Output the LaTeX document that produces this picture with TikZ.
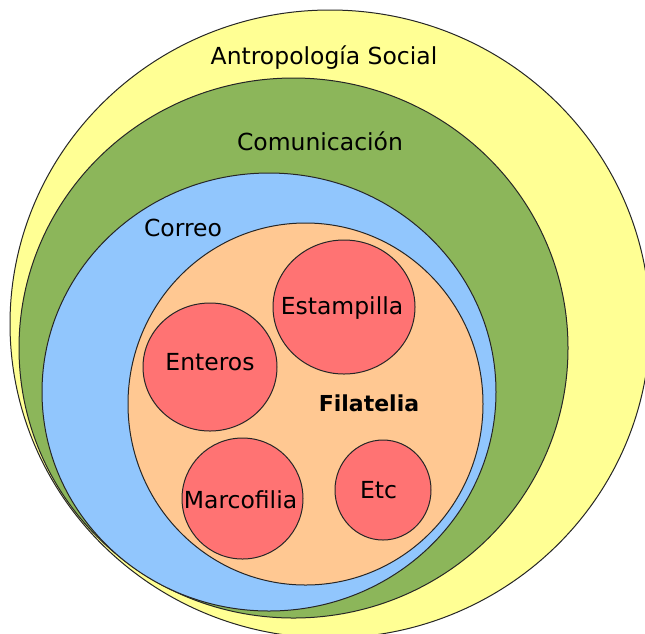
\documentclass[tikz,border=0pt]{standalone}
\usepackage{fontspec}
\setmainfont{DejaVu Sans}
\usepackage{xcolor}
\usepackage{tikz}
\usetikzlibrary{positioning}
\definecolor{antroyellow}{HTML}{FFFF94}
\definecolor{comungreen}{HTML}{8CB65A}
\definecolor{correoblue}{HTML}{91C6FD}
\definecolor{filapeach}{HTML}{FFC892}
\definecolor{itemred}{HTML}{FF7373}
\tikzset{
  area/.style={draw=black!85, line width=0.75pt},
  item/.style={area, fill=itemred},
  setlabel/.style={inner sep=0pt, text height=12.8pt, text depth=0pt, font=\fontsize{17.6}{20}\selectfont}
}

\begin{document}
\begin{tikzpicture}[x=0.75pt, y=-0.75pt]
  \useasboundingbox (0,0) rectangle (645,633);
  \clip (0,0) rectangle (645,633);
  \draw[area, fill=antroyellow] (330,324) ellipse [x radius=320, y radius=314];
  \draw[area, fill=comungreen] (293.5,348) ellipse [x radius=274.5, y radius=270];
  \draw[area, fill=correoblue] (269,392) ellipse [x radius=227, y radius=219];
  \draw[area, fill=filapeach] (305.5,404) ellipse [x radius=177.5, y radius=181];
  \draw[item] (344,307) ellipse [x radius=71, y radius=67];
  \draw[item] (210,367) ellipse [x radius=67, y radius=64];
  \draw[item] (242.5,498.5) ellipse [x radius=60.5, y radius=60.5];
  \draw[item] (383,490) ellipse [x radius=48, y radius=50];
  \node[setlabel] (antro) at (324,56) {Antropología Social};
  \node[setlabel] (comun) at (320,142) {Comunicación};
  \node[setlabel] (correo) at (183,228) {Correo};
  \node[setlabel, text height=12pt, font=\fontsize{16.5}{20}\selectfont\bfseries] (filatelia) at (369,403) {Filatelia};
  \node[setlabel] (estampilla) at (342,306) {Estampilla};
  \node[setlabel] (enteros) at (210,362) {Enteros};
  \node[setlabel] (marcofilia) at (240.5,500) {Marcofilia};
  \node[setlabel] (etc) at (378.5,490) {Etc};
\end{tikzpicture}
\end{document}
